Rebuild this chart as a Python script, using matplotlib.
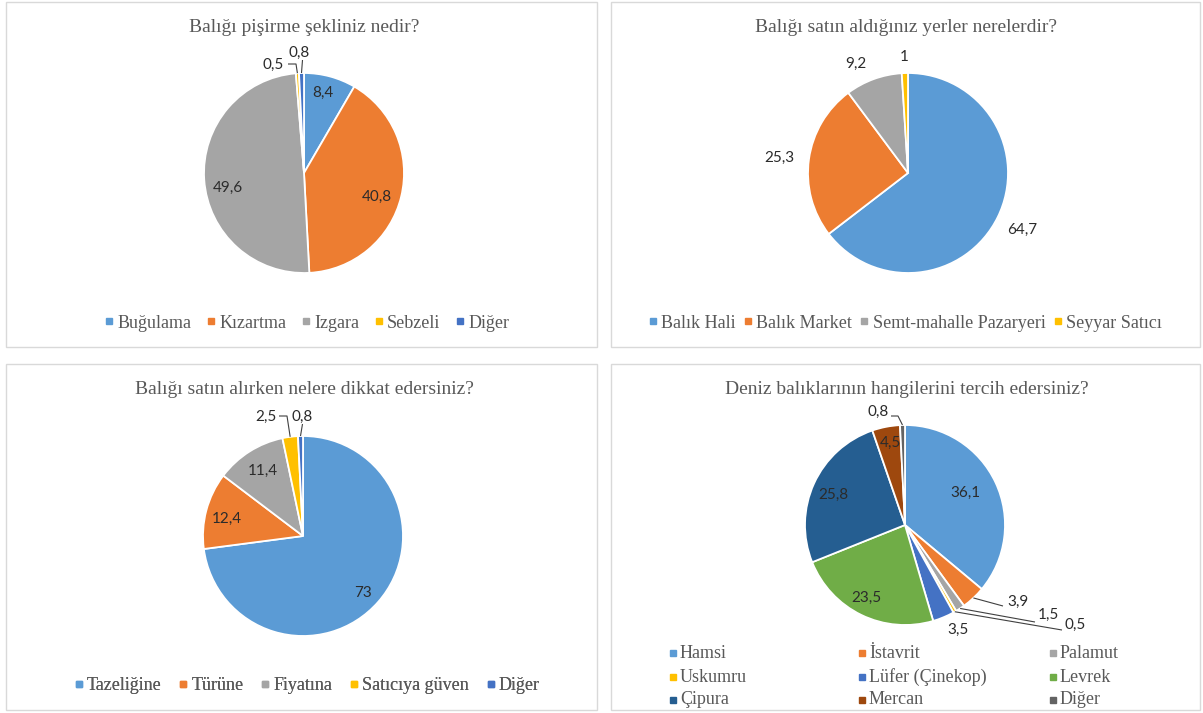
import matplotlib.pyplot as plt
from matplotlib.lines import Line2D
from matplotlib.patches import Rectangle
import numpy as np

W, H = 1203, 713

# ---- data ----
cook_title = 'Balığı pişirme şekliniz nedir?'
cook_labels = ['Buğulama', 'Kızartma', 'Izgara', 'Sebzeli', 'Diğer']
cook_values = [8.4, 40.8, 49.6, 0.5, 0.8]

place_title = 'Balığı satın aldığınız yerler nerelerdir?'
place_labels = ['Balık Hali', 'Balık Market', 'Semt-mahalle Pazaryeri', 'Seyyar Satıcı']
place_values = [64.7, 25.3, 9.2, 1]

care_title = 'Balığı satın alırken nelere dikkat edersiniz?'
care_labels = ['Tazeliğine', 'Türüne', 'Fiyatına', 'Satıcıya güven', 'Diğer']
care_values = [73, 12.4, 11.4, 2.5, 0.8]

fish_title = 'Deniz balıklarının hangilerini tercih edersiniz?'
fish_labels = ['Hamsi', 'İstavrit', 'Palamut', 'Uskumru', 'Lüfer (Çinekop)',
               'Levrek', 'Çipura', 'Mercan', 'Diğer']
fish_values = [36.1, 3.9, 1.5, 0.5, 3.5, 23.5, 25.8, 4.5, 0.8]

# ---- style ----
COLORS = ['#5B9BD5', '#ED7D31', '#A5A5A5', '#FFC000', '#4472C4',
          '#70AD47', '#255E91', '#9E480E', '#636363']
SERIF = 'Liberation Serif'
SANS = 'Lato'
GRAY = '#595959'
DARK = '#2B2B2B'
R = 100

fig = plt.figure(figsize=(W / 100, H / 100), dpi=100)
ax = fig.add_axes([0, 0, 1, 1])


def Y(y):
    return H - y


def fmt(v):
    return f'{v:g}'.replace('.', ',')


def draw_pie(values, center, label_offsets, leaders):
    cx, cy = center
    wedges, _ = ax.pie(values, colors=COLORS[:len(values)], startangle=90,
                       counterclock=False, center=(cx, Y(cy)), radius=R,
                       frame=True,
                       wedgeprops=dict(edgecolor='white', linewidth=1.3))
    for v, (dx, dy) in zip(values, label_offsets):
        ax.text(cx + dx, Y(cy + dy), fmt(v), ha='center', va='center',
                fontsize=11, family=SANS, color=DARK)
    # leader lines from label to wedge edge
    for idx, pts in leaders.items():
        w = wedges[idx]
        th = np.deg2rad((w.theta1 + w.theta2) / 2)
        xs = [cx + p[0] for p in pts] + [cx + R * np.cos(th)]
        ys = [Y(cy + p[1]) for p in pts] + [Y(cy) + R * np.sin(th)]
        ax.plot(xs, ys, color='#404040', lw=0.8, solid_capstyle='butt')


def draw_legend(labels, center, spacing):
    handles = [Line2D([], [], marker='s', ls='', ms=4.5, color=COLORS[i])
               for i in range(len(labels))]
    leg = ax.legend(handles, labels, ncol=len(labels), loc='center',
                    bbox_to_anchor=(center[0], Y(center[1])),
                    bbox_transform=ax.transData, frameon=False,
                    prop=dict(family=SERIF, size=13), labelcolor=GRAY,
                    handlelength=0.5, handletextpad=0.2,
                    columnspacing=spacing, borderpad=0, borderaxespad=0)
    ax.add_artist(leg)


# panel borders
for x0, y0, x1, y1 in [(6, 2, 597, 347), (611, 2, 1200, 347),
                       (6, 364, 597, 710), (611, 364, 1200, 710)]:
    ax.add_patch(Rectangle((x0, Y(y1)), x1 - x0, y1 - y0, fill=False,
                           edgecolor='#D9D9D9', lw=1))

# titles
for t, (x, y) in [(cook_title, (304, 27)), (place_title, (906, 27)),
                  (care_title, (304, 390)), (fish_title, (907, 390))]:
    ax.text(x, Y(y), t, ha='center', va='center', family=SERIF,
            fontsize=14, color=GRAY)

# top-left
draw_pie(cook_values, (304, 173),
         [(19, -80), (73, 24), (-76, 15), (-31, -108), (-5, -120)],
         {3: [(-16, -109), (-8, -109)], 4: [(-1.5, -113)]})
draw_legend(cook_labels, (307, 323), 0.85)

# top-right
draw_pie(place_values, (908, 173),
         [(114, 57), (-129, -15), (-52, -109), (-4, -116)], {})
draw_legend(place_labels, (905, 323), 0.45)

# bottom-left
draw_pie(care_values, (303, 536),
         [(60, 57), (-76, -17), (-40, -65), (-37, -119), (-1, -119)],
         {3: [(-24, -120), (-16, -120)], 4: [(-0.5, -112)]})
draw_legend(care_labels, (307, 686), 0.95)

# bottom-right
draw_pie(fish_values, (905, 525),
         [(60, -32), (113, 77), (143, 90), (170, 100), (53, 105),
          (-39, 73), (-72, -30), (-15, -82), (-27, -113)],
         {1: [(98, 81)], 2: [(130, 97)], 3: [(157, 105)],
          8: [(-14, -109), (-7, -109)]})

# three-column legend, filled row by row
col_x = [673, 862, 1053]
row_y = [653, 677, 700]
for i, lab in enumerate(fish_labels):
    x, y = col_x[i % 3], row_y[i // 3]
    ax.plot([x], [Y(y)], marker='s', ms=4.5, color=COLORS[i], ls='')
    ax.text(x + 7, Y(y), lab, ha='left', va='center', family=SERIF,
            fontsize=13, color=GRAY)

ax.set_xlim(0, W)
ax.set_ylim(0, H)
ax.set_aspect('equal')
ax.axis('off')

fig.savefig('out.png', dpi=100)
